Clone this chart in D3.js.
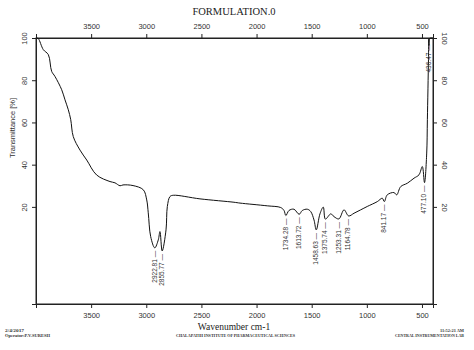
<!DOCTYPE html>
<html>
<head>
<meta charset="utf-8">
<script src="https://cdn.jsdelivr.net/npm/d3@7"></script>
<style>
    body { margin: 0; background: #fff; }
    svg { display: block; }
    .tick text { font-family: "Liberation Sans", Arial, sans-serif; font-size: 7.5px; fill: #333; }
    .domain, .tick line { stroke: #222; }
</style>
</head>
<body>
<div id="chart"></div>
<script>
// Spectrum
const wavenumbers = [3995, 3979, 3934, 3888, 3858, 3828, 3767, 3737, 3707, 3685, 3662, 3601, 3540, 3450, 3329, 3284, 3238, 3211, 3120, 3027, 2996, 2982, 2960, 2922.8, 2891, 2876, 2855.8, 2821, 2809, 2785, 2755, 2513, 2205, 2150, 1903, 1781, 1751, 1734.3, 1706, 1661, 1613.7, 1585, 1540, 1509, 1479, 1458.6, 1425, 1395, 1375.7, 1327, 1298, 1253.3, 1207, 1164.8, 1116, 1056, 996, 905, 860, 841.2, 815, 754, 729, 693, 633, 572, 527, 497, 477.1, 457, 451, 441, 438, 436.5, 432, 423, 409, 400];
const transmittance = [100, 99.7, 94.5, 92.1, 84.2, 81.8, 75.5, 70.7, 66.0, 61.3, 53.3, 46.9, 42.2, 35.1, 32.0, 31.4, 30.0, 30.4, 30.1, 28.1, 23.3, 17.2, 5.9, 0.6, 4.4, 8.3, -0.9, 9.1, 20.2, 24.9, 25.5, 23.8, 22.2, 21.8, 20.5, 19.7, 18.3, 15.9, 18.3, 18.9, 16.5, 18.3, 18.9, 17.8, 13.8, 9.1, 16.7, 19.9, 14.2, 16.7, 15.4, 14.3, 18.6, 15.7, 17.0, 18.6, 20.2, 22.5, 24.1, 22.5, 25.7, 26.8, 25.7, 29.6, 31.2, 33.6, 35.2, 39.1, 31.5, 45.5, 61.3, 89.7, 99.5, 96.5, 99.8, 100, 100, 100];

const peakLabels = ['2922.81', '2855.77', '1734.28', '1613.72', '1458.63', '1375.74', '1253.31', '1164.78', '841.17', '477.10', '436.47'];
const peakValues = [0.6, -0.9, 15.9, 16.5, 9.1, 14.2, 14.3, 15.7, 22.5, 31.5, 96.5];

const xTicks = [3500, 3000, 2500, 2000, 1500, 1000, 500];
const yTicks = [20, 40, 60, 80, 100];

const width = 474, height = 350;
const plot = { left: 36, right: 433, top: 38, bottom: 304 };

const svg = d3.select('#chart')
    .append('svg')
    .attr('width', width)
    .attr('height', height);

const x = d3.scaleLinear().domain([4000, 400]).range([plot.left, plot.right]);
const y = d3.scaleLinear().domain([-26, 100]).range([plot.bottom, plot.top]);

// frame
svg.append('rect')
    .attr('x', plot.left).attr('y', plot.top)
    .attr('width', plot.right - plot.left).attr('height', plot.bottom - plot.top)
    .attr('fill', 'none').attr('stroke', '#222');

// axes
svg.append('g')
    .attr('transform', `translate(0,${plot.top})`)
    .call(d3.axisTop(x).tickValues(xTicks).tickFormat(d3.format('d')).tickSizeOuter(0).tickSize(4).tickPadding(5));

svg.append('g')
    .attr('transform', `translate(0,${plot.bottom})`)
    .call(d3.axisBottom(x).tickValues(xTicks).tickFormat(d3.format('d')).tickSizeOuter(0).tickSize(4).tickPadding(5));

const left = svg.append('g')
    .attr('transform', `translate(${plot.left},0)`)
    .call(d3.axisLeft(y).tickValues(yTicks).tickSizeOuter(0).tickSize(4));
left.selectAll('.tick text')
    .attr('x', null).attr('dy', null)
    .attr('text-anchor', 'middle')
    .attr('transform', 'translate(-11,0) rotate(-90)')
    .attr('dominant-baseline', 'middle');

const right = svg.append('g')
    .attr('transform', `translate(${plot.right},0)`)
    .call(d3.axisRight(y).tickValues(yTicks).tickSizeOuter(0).tickSize(4));
right.selectAll('.tick text')
    .attr('x', null).attr('dy', null)
    .attr('text-anchor', 'middle')
    .attr('transform', 'translate(11,0) rotate(90)')
    .attr('dominant-baseline', 'middle');

// spectrum
const line = d3.line()
    .x(d => x(d[0]))
    .y(d => y(Math.min(d[1], 100)))
    .curve(d3.curveCatmullRom.alpha(0.5));

svg.append('path')
    .datum(d3.zip(wavenumbers, transmittance))
    .attr('d', line)
    .attr('fill', 'none')
    .attr('stroke', '#111')
    .attr('stroke-width', 1);

// peak labels
svg.append('g')
    .selectAll('text')
    .data(peakLabels)
    .enter()
    .append('text')
    .attr('transform', (d, i) => {
        const px = x(+d);
        const py = i === 10 ? y(97) : y(peakValues[i]) + 3;
        return `translate(${px},${py}) rotate(-90)`;
    })
    .attr('text-anchor', 'end')
    .attr('dominant-baseline', 'middle')
    .style('font-family', '"Liberation Sans", Arial, sans-serif')
    .style('font-size', '6.5px')
    .style('fill', '#333')
    .text(d => d + ' \u2014');

// titles
svg.append('text')
    .attr('x', 234).attr('y', 15)
    .attr('text-anchor', 'middle')
    .style('font-family', '"Liberation Serif", "Times New Roman", serif')
    .style('font-size', '10.5px')
    .style('fill', '#222')
    .text('FORMULATION.0');

svg.append('text')
    .attr('x', 234).attr('y', 330)
    .attr('text-anchor', 'middle')
    .style('font-family', '"Liberation Serif", "Times New Roman", serif')
    .style('font-size', '9.5px')
    .style('fill', '#222')
    .text('Wavenumber cm-1');

svg.append('text')
    .attr('transform', 'translate(13,128) rotate(-90)')
    .attr('text-anchor', 'middle')
    .attr('dominant-baseline', 'middle')
    .style('font-family', '"Liberation Sans", Arial, sans-serif')
    .style('font-size', '7.5px')
    .style('fill', '#333')
    .text('Transmittance [%]');

// footer
const footer = [
    { t: '2/4/2017', x: 5, y: 332, w: 19 },
    { t: 'Operator:P.V.SURESH', x: 5, y: 337, w: 45 },
    { t: 'CHALAPATHI INSTITUTE OF PHARMACEUTICAL SCIENCES', x: 176, y: 337, w: 119 },
    { t: '11:52:21 AM', x: 440, y: 332, w: 24 },
    { t: 'CENTRAL INSTRUMENTATION LAB', x: 395, y: 337, w: 69 }
];
svg.append('g')
    .selectAll('text')
    .data(footer)
    .enter()
    .append('text')
    .attr('x', d => d.x).attr('y', d => d.y)
    .attr('textLength', d => d.w)
    .attr('lengthAdjust', 'spacingAndGlyphs')
    .style('font-family', '"Liberation Serif", "Times New Roman", serif')
    .style('font-size', '4.5px')
    .style('font-weight', 'bold')
    .style('fill', '#333')
    .text(d => d.t);
</script>
</body>
</html>
